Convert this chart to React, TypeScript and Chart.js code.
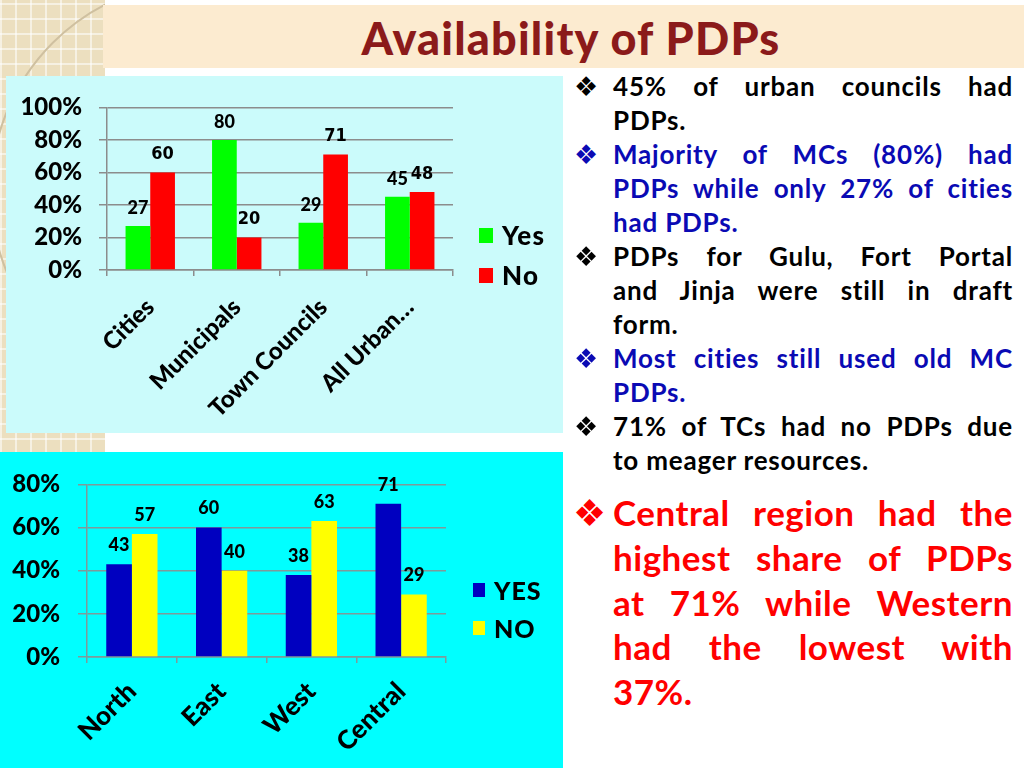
import React, { useEffect, useRef } from "react";
import { Chart, registerables } from "chart.js";

Chart.register(...registerables);

// ---------- data ----------
const urbanCategories = ["Cities", "Municipals", "Town Councils", "All Urban…"];
const urbanYes = [27, 80, 29, 45];
const urbanNo = [60, 20, 71, 48];
const urbanTicks = [0, 20, 40, 60, 80, 100];
const urbanSeries = ["Yes", "No"];

const regionCategories = ["North", "East", "West", "Central"];
const regionYes = [43, 60, 38, 71];
const regionNo = [57, 40, 63, 29];
const regionTicks = [0, 20, 40, 60, 80];
const regionSeries = ["YES", "NO"];

const titleText = "Availability of PDPs";

const bulletLines: { text: string; color: string; bullet: boolean; last: boolean }[] = [
  { text: "45% of urban councils had", color: "#000000", bullet: true, last: false },
  { text: "PDPs.", color: "#000000", bullet: false, last: true },
  { text: "Majority of MCs (80%) had", color: "#0a0ab4", bullet: true, last: false },
  { text: "PDPs while only 27% of cities", color: "#0a0ab4", bullet: false, last: false },
  { text: "had PDPs.", color: "#0a0ab4", bullet: false, last: true },
  { text: "PDPs for Gulu, Fort Portal", color: "#000000", bullet: true, last: false },
  { text: "and Jinja were still in draft", color: "#000000", bullet: false, last: false },
  { text: "form.", color: "#000000", bullet: false, last: true },
  { text: "Most cities still used old MC", color: "#0a0ab4", bullet: true, last: false },
  { text: "PDPs.", color: "#0a0ab4", bullet: false, last: true },
  { text: "71% of TCs had no PDPs due", color: "#000000", bullet: true, last: false },
  { text: "to meager resources.", color: "#000000", bullet: false, last: true },
];

const redLines = [
  "Central region had the",
  "highest share of PDPs",
  "at 71% while Western",
  "had the lowest with",
  "37%.",
];

const FONT = "Lato, 'Open Sans', sans-serif";
const NARROW = "'DejaVu Sans Condensed', 'DejaVu Sans', sans-serif";

// ---------- value label plugin ----------
const valueLabels = {
  id: "valueLabels",
  afterDatasetsDraw(chart: any, _args: any, opts: any) {
    const ctx = chart.ctx;
    chart.data.datasets.forEach((ds: any, i: number) => {
      const meta = chart.getDatasetMeta(i);
      ctx.save();
      ctx.font = opts.fonts[i];
      ctx.fillStyle = "#000";
      ctx.textAlign = "center";
      ctx.textBaseline = "middle";
      meta.data.forEach((el: any, j: number) => {
        ctx.fillText(String(ds.data[j]), el.x, el.y - opts.offset);
      });
      ctx.restore();
    });
  },
};

function makeConfig(p: {
  labels: string[];
  series: string[];
  a: number[];
  b: number[];
  colors: string[];
  ticks: number[];
  max: number;
  padTop: number;
  padRight: number;
  yWidth: number;
  xHeight: number;
  yPad: number;
  yTickLen: number;
  gridColor: string;
  labelFonts: string[];
  labelOffset: number;
  xPad: number;
  xFont: number;
}) {
  return {
    type: "bar",
    data: {
      labels: p.labels,
      datasets: [
        { label: p.series[0], data: p.a, backgroundColor: p.colors[0], categoryPercentage: 0.571, barPercentage: 1 },
        { label: p.series[1], data: p.b, backgroundColor: p.colors[1], categoryPercentage: 0.571, barPercentage: 1 },
      ],
    },
    options: {
      animation: false,
      responsive: false,
      maintainAspectRatio: false,
      events: [],
      layout: { padding: { top: p.padTop, right: p.padRight, bottom: 0, left: 0 } },
      plugins: {
        legend: { display: false },
        tooltip: { enabled: false },
        valueLabels: { fonts: p.labelFonts, offset: p.labelOffset },
      },
      scales: {
        x: {
          grid: {
            offset: true,
            drawOnChartArea: false,
            drawTicks: true,
            tickLength: 6,
            color: p.gridColor,
            lineWidth: 1.5,
          },
          border: { color: p.gridColor, width: 1.5 },
          ticks: {
            autoSkip: false,
            maxRotation: 45,
            minRotation: 45,
            padding: p.xPad,
            color: "#000",
            font: { family: FONT, weight: "900", size: p.xFont },
          },
          afterFit: (s: any) => {
            s.height = p.xHeight;
          },
        },
        y: {
          min: 0,
          max: p.max,
          afterBuildTicks: (s: any) => {
            s.ticks = p.ticks.map((v) => ({ value: v }));
          },
          ticks: {
            padding: p.yPad,
            color: "#000",
            font: { family: FONT, weight: "900", size: 24 },
            callback: (v: any) => v + "%",
          },
          grid: { color: p.gridColor, lineWidth: 1.5, tickLength: p.yTickLen },
          border: { color: p.gridColor, width: 1.5 },
          afterFit: (s: any) => {
            s.width = p.yWidth;
          },
        },
      },
    },
    plugins: [valueLabels],
  } as any;
}

function ChartCanvas({ width, height, config }: { width: number; height: number; config: any }) {
  const ref = useRef<HTMLCanvasElement>(null);
  useEffect(() => {
    const chart = new Chart(ref.current as HTMLCanvasElement, config);
    return () => chart.destroy();
  }, []);
  return <canvas ref={ref} width={width} height={height} style={{ display: "block", width, height }} />;
}

function Legend({ items, colors, x, ys, box, size, ls }: { items: string[]; colors: string[]; x: number; ys: number[]; box: [number, number]; size: number; ls: number }) {
  return (
    <>
      {items.map((t, i) => (
        <div key={t} style={{ position: "absolute", left: x, top: ys[i] - 20, height: 40, display: "flex", alignItems: "center" }}>
          <div style={{ width: box[0], height: box[1], background: colors[i], marginRight: 9 }} />
          <div style={{ font: `900 ${size}px ${FONT}`, letterSpacing: ls, color: "#000", lineHeight: "40px" }}>{t}</div>
        </div>
      ))}
    </>
  );
}

export default function App() {
  const topCfg = makeConfig({
    labels: urbanCategories,
    series: urbanSeries,
    a: urbanYes,
    b: urbanNo,
    colors: ["#00ff00", "#ff0000"],
    ticks: urbanTicks,
    max: 100,
    padTop: 24,
    padRight: 110,
    yWidth: 101,
    xHeight: 163,
    yPad: 17,
    yTickLen: 8,
    gridColor: "#8c8c8c",
    labelFonts: [`900 18px ${FONT}`, `bold 18px ${NARROW}`],
    labelOffset: 18,
    xPad: 17,
    xFont: 24,
  });
  const botCfg = makeConfig({
    labels: regionCategories,
    series: regionSeries,
    a: regionYes,
    b: regionNo,
    colors: ["#0000c0", "#ffff00"],
    ticks: regionTicks,
    max: 80,
    padTop: 25,
    padRight: 117,
    yWidth: 87,
    xHeight: 111,
    yPad: 18,
    yTickLen: 9,
    gridColor: "#7f9a9a",
    labelFonts: [`900 18px ${FONT}`, `900 18px ${FONT}`],
    labelOffset: 19,
    xPad: 13,
    xFont: 26,
  });

  return (
    <div style={{ position: "fixed", left: 0, top: 0, width: 1024, height: 768, background: "#fff", overflow: "hidden", fontFamily: FONT }}>
      {/* decorative beige block */}
      <div
        style={{
          position: "absolute",
          left: 0,
          top: 0,
          width: 105,
          height: 455,
          overflow: "hidden",
          backgroundColor: "#ecdfbf",
          backgroundImage:
            "repeating-linear-gradient(0deg, rgba(255,255,255,0.55) 0 2px, transparent 2px 15px), repeating-linear-gradient(90deg, rgba(255,255,255,0.55) 0 2px, transparent 2px 15px)",
        }}
      >
        <div style={{ position: "absolute", left: -10, top: -20, width: 420, height: 420, borderRadius: "50%", border: "2px solid #cfc0a0" }} />
      </div>
      {/* title bar */}
      <div style={{ position: "absolute", left: 103, top: 5, width: 921, height: 63, background: "#fcebd0" }} />
      <div
        style={{
          position: "absolute",
          left: 271,
          top: 11,
          width: 600,
          textAlign: "center",
          font: `900 45px ${FONT}`,
          letterSpacing: 1.2,
          color: "#8b1a1a",
          lineHeight: "54px",
          whiteSpace: "nowrap",
        }}
      >
        {titleText}
      </div>

      {/* top chart panel */}
      <div style={{ position: "absolute", left: 6, top: 76, width: 557, height: 357, background: "#cbfbfb" }}>
        <ChartCanvas width={557} height={357} config={topCfg} />
        <Legend items={urbanSeries} colors={["#00ff00", "#ff0000"]} x={473} ys={[159, 199]} box={[14, 15]} size={26} ls={1.2} />
      </div>

      {/* bottom chart panel */}
      <div style={{ position: "absolute", left: 0, top: 452, width: 563, height: 316, background: "#00ffff" }}>
        <ChartCanvas width={563} height={316} config={botCfg} />
        <Legend items={regionSeries} colors={["#0000c0", "#ffff00"]} x={473} ys={[138, 176]} box={[12, 14]} size={25} ls={1} />
      </div>

      {/* right text */}
      {bulletLines.map((l, i) => {
        const center = 88 + 34 * i;
        return (
          <React.Fragment key={i}>
            {l.bullet && (
              <div style={{ position: "absolute", left: 574, top: center - 17, height: 34, lineHeight: "34px", font: `27px 'DejaVu Sans'`, color: l.color }}>❖</div>
            )}
            <div
              style={{
                position: "absolute",
                left: 613,
                top: center - 18,
                width: 400,
                height: 34,
                lineHeight: "34px",
                font: `bold 26px ${FONT}`,
                letterSpacing: 0.8,
                color: l.color,
                textAlign: l.last ? "left" : "justify",
                textAlignLast: l.last ? "left" : "justify",
                whiteSpace: "nowrap",
              } as any}
            >
              {l.text}
            </div>
          </React.Fragment>
        );
      })}
      <div style={{ position: "absolute", left: 573, top: 492, height: 44, lineHeight: "44px", font: `37px 'DejaVu Sans'`, color: "#ff0000" }}>❖</div>
      {redLines.map((t, i) => (
        <div
          key={i}
          style={{
            position: "absolute",
            left: 613,
            top: 491 + 44.8 * i,
            width: 400,
            height: 45,
            lineHeight: "45px",
            font: `bold 35px ${FONT}`,
            letterSpacing: 0.5,
            color: "#ff0000",
            textAlign: i === redLines.length - 1 ? "left" : "justify",
            textAlignLast: i === redLines.length - 1 ? "left" : "justify",
            whiteSpace: "nowrap",
          } as any}
        >
          {t}
        </div>
      ))}
    </div>
  );
}
